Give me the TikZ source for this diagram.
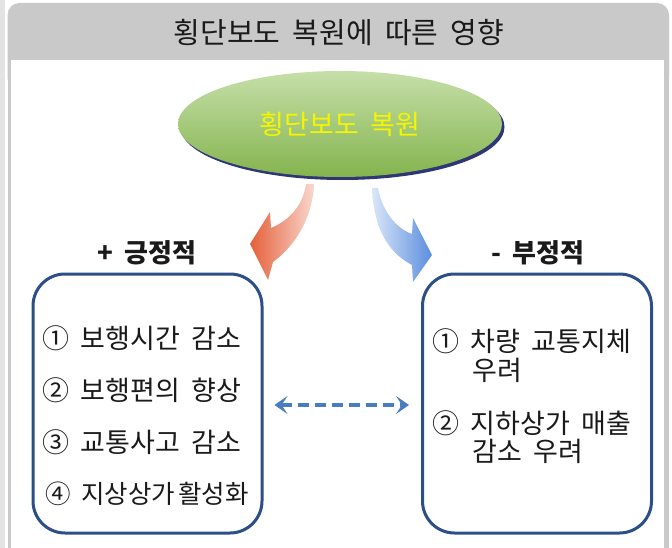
\documentclass[tikz,border=0pt]{standalone}
\usepackage{fontspec}
\setmainfont{Noto Sans CJK KR}[WordSpace=1.9]
\usetikzlibrary{shapes.geometric,arrows.meta}
\definecolor{hdr}{HTML}{C9C9C9}
\definecolor{side}{HTML}{E3E3E3}
\definecolor{boxblue}{HTML}{2B4F86}
\definecolor{dashblue}{HTML}{4A7CC0}
\definecolor{greenT}{HTML}{C6DFA9}
\definecolor{greenB}{HTML}{84B44E}
\definecolor{shadowblue}{HTML}{2E3676}
\definecolor{redD}{HTML}{E5603A}
\definecolor{redL}{HTML}{F8D8CE}
\definecolor{blueD}{HTML}{5A8EDE}
\definecolor{blueL}{HTML}{DAE6F8}
\definecolor{txt}{HTML}{1A1A1A}
\tikzset{
  itembox/.style={draw=boxblue, line width=3pt, rounded corners=32pt, fill=white,
    minimum width=229pt, minimum height=259pt},
  item/.style={anchor=west, inner sep=0pt, text=txt, font=\fontsize{27}{32}\selectfont},
  headtxt/.style={inner sep=0pt, text=txt, font=\bfseries\fontsize{26}{30}\selectfont},
}
\begin{document}
\begin{tikzpicture}[x=1pt,y=-1pt]
\useasboundingbox (0,0) rectangle (672,548);
% frame
\fill[side] (0,0) rectangle (4.5,548);
\fill[hdr, rounded corners=12pt] (7.5,3) rectangle (669,90);
\fill[hdr] (7.5,40) rectangle (669,548);
\fill[white] (10.5,60) rectangle (664,548);
\node[inner sep=0pt, text=txt, font=\fontsize{29}{34}\selectfont] (title) at (339,33) {횡단보도 복원에 따른 영향};
% ellipse
\fill[shadowblue] (342.5,127) ellipse [x radius=162, y radius=53];
\node[ellipse, top color=greenT, bottom color=greenB, minimum width=324pt, minimum height=106pt, inner sep=0pt] (center) at (340,124) {};
\node[text={rgb,255:red,245;green,245;blue,0}, font=\fontsize{27}{32}\selectfont, inner sep=0pt] (ctext) at (340,124) {횡단보도 복원};
% curved arrows
\shade[left color=redD, right color=redL] (306,184) -- (314,184)
  .. controls (313,212) and (300,242) .. (273,262) -- (268,280) -- (250,244) -- (270,212) -- (271,228)
  .. controls (290,220) and (303,205) .. (306,184) -- cycle;
\shade[left color=blueL, right color=blueD] (372,188) -- (378,188)
  .. controls (382,210) and (395,228) .. (412,234) -- (413,218) -- (432,255) -- (413,282) -- (412,265)
  .. controls (393,255) and (374,235) .. (372,188) -- cycle;
% headings
\node[headtxt] (pos) at (147,253) {+ 긍정적};
\node[headtxt] (neg) at (538,253) {- 부정적};
% boxes
\node[itembox] (lbox) at (147.5,403.5) {};
\node[itembox] (rbox) at (537,403.5) {};
% items
\node[item] (l1) at (42,338) {① 보행시간 감소};
\node[item] (l2) at (42,390) {② 보행편의 향상};
\node[item] (l3) at (42,442) {③ 교통사고 감소};
\node[item, font=\fontsize{25.5}{30}\selectfont] (l4) at (45,494) {④ 지상상가\hspace{3pt}활성화};
\node[item] (r1) at (432,341) {① 차량 교통지체};
\node[item] (r1b) at (472,370) {우려};
\node[item] (r2) at (432,423) {② 지하상가 매출};
\node[item] (r2b) at (472,451) {감소 우려};
% dashed double arrow
\draw[dashblue, line width=4pt, dash pattern=on 11pt off 6pt,
  {Stealth[length=13pt,width=18pt,inset=6pt]}-{Stealth[length=13pt,width=18pt,inset=6pt]},
  shorten <=11pt, shorten >=12pt] ([yshift=-1.5pt]lbox.east) -- ([yshift=-1.5pt]rbox.west);
\end{tikzpicture}
\end{document}
